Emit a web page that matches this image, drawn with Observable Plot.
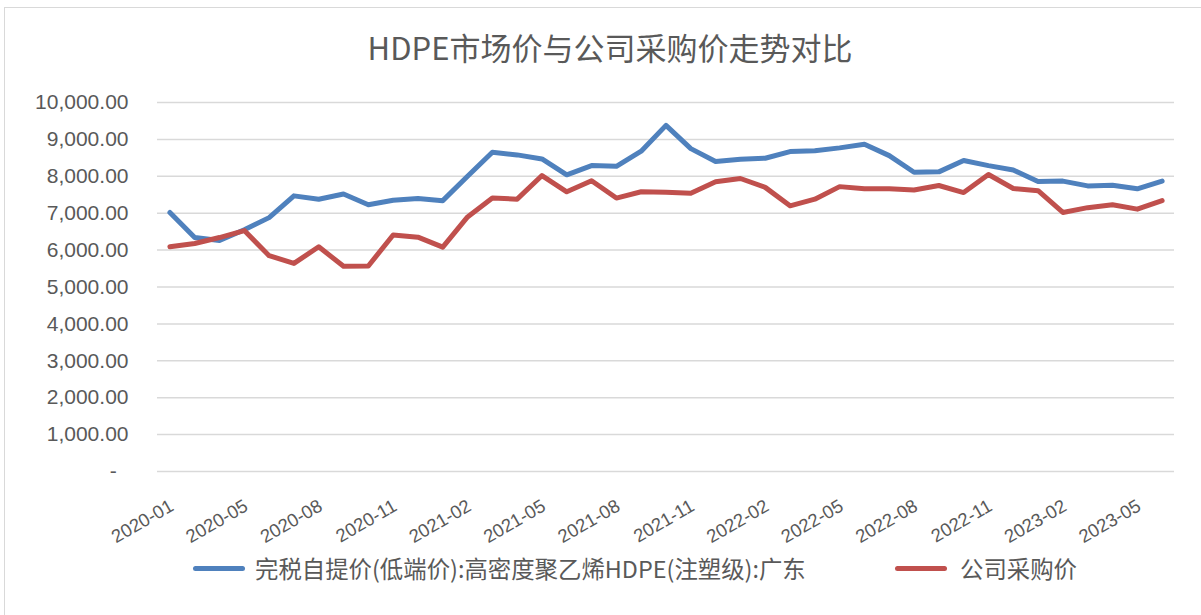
<!DOCTYPE html>
<html>
<head>
<meta charset="utf-8">
<script src="https://cdn.jsdelivr.net/npm/d3@7"></script>
<script src="https://cdn.jsdelivr.net/npm/@observablehq/plot@0.6"></script>
<style>
  html, body { margin: 0; padding: 0; background: #fff; }
  #wrap { position: relative; width: 1201px; height: 615px; overflow: hidden; background: #fff; }
  #frame { position: absolute; left: 4px; top: 7px; width: 1230px; height: 640px; border: 1.5px solid #d9d9d9; box-sizing: border-box; }
  #title { position: absolute; left: 0; width: 1220px; top: 31px; line-height: 32px; text-align: center;
           font-family: "Noto Sans CJK SC", sans-serif; font-size: 31px; color: #595959; white-space: nowrap; }
  #chart { position: absolute; left: 0; top: 0; }
  .leg { position: absolute; top: 553px; line-height: 30px; font-family: "Noto Sans CJK SC", sans-serif;
         font-size: 23.4px; color: #595959; white-space: nowrap; }
  .sw { position: absolute; top: 566px; height: 5px; width: 52px; border-radius: 3px; }
</style>
</head>
<body>
<div id="wrap">
  <div id="frame"></div>
  <div id="chart"></div>
  <div id="title"></div>
  <div class="sw" style="left:193px;background:#4f81bd"></div>
  <div class="leg" style="left:255px" id="leg1"></div>
  <div class="sw" style="left:895px;background:#c0504d"></div>
  <div class="leg" style="left:960px" id="leg2"></div>
</div>
<script>
const months = [
  "2020-01","2020-03","2020-04","2020-05","2020-06","2020-07","2020-08","2020-09","2020-10","2020-11","2020-12",
  "2021-01","2021-02","2021-03","2021-04","2021-05","2021-06","2021-07","2021-08","2021-09","2021-10","2021-11","2021-12",
  "2022-01","2022-02","2022-03","2022-04","2022-05","2022-06","2022-07","2022-08","2022-09","2022-10","2022-11","2022-12",
  "2023-01","2023-02","2023-03","2023-04","2023-05","2023-06"
];
const marketPrice = [
  7020, 6340, 6260, 6550, 6880, 7470, 7380, 7520, 7230, 7350,
  7400, 7340, 8000, 8650, 8580, 8470, 8040, 8290, 8270, 8680,
  9380, 8750, 8400, 8460, 8490, 8670, 8690, 8770, 8870, 8560,
  8110, 8120, 8430, 8290, 8170, 7860, 7870, 7740, 7760, 7660,
  7870
];
const purchasePrice = [
  6090, 6180, 6340, 6530, 5850, 5640, 6090, 5560, 5570, 6410,
  6350, 6080, 6900, 7410, 7380, 8020, 7580, 7880, 7410, 7580,
  7570, 7540, 7850, 7940, 7700, 7200, 7380, 7720, 7660, 7660,
  7630, 7750, 7560, 8050, 7670, 7610, 7020, 7150, 7230, 7110,
  7340
];
const seriesNames = ["完税自提价(低端价):高密度聚乙烯HDPE(注塑级):广东", "公司采购价"];
const seriesColors = ["#4f81bd", "#c0504d"];
const yTicks = [0, 1000, 2000, 3000, 4000, 5000, 6000, 7000, 8000, 9000, 10000];
const xTickLabels = ["2020-01","2020-05","2020-08","2020-11","2021-02","2021-05","2021-08","2021-11","2022-02","2022-05","2022-08","2022-11","2023-02","2023-05"];
const chartTitle = "HDPE市场价与公司采购价走势对比";

document.getElementById("title").textContent = chartTitle;
document.getElementById("leg1").textContent = seriesNames[0];
document.getElementById("leg2").textContent = seriesNames[1];

const rowsA = months.map((m, i) => ({month: m, value: marketPrice[i]}));
const rowsB = months.map((m, i) => ({month: m, value: purchasePrice[i]}));

const fmt = d => d === 0 ? "-\u00A0\u00A0" : d3.format(",.2f")(d);

const chart = Plot.plot({
  width: 1201,
  height: 560,
  marginLeft: 157,
  marginRight: 27,
  marginTop: 102,
  marginBottom: 89,
  style: {fontFamily: "'Liberation Sans', Arial, sans-serif", fontSize: "21px", color: "#595959", background: "transparent", overflow: "visible"},
  x: {type: "point", domain: months, padding: 0.5, axis: null},
  y: {domain: [0, 10000], axis: null},
  marks: [
    Plot.ruleY(yTicks, {stroke: "#d9d9d9", strokeWidth: 1.5}),
    Plot.axisY(yTicks, {tickSize: 0, tickPadding: 29, tickFormat: fmt, fontSize: 21, fill: "#595959", label: null}),
    Plot.text(xTickLabels, {x: d => d, frameAnchor: "bottom", dx: 2, dy: 33, rotate: -30,
      textAnchor: "end", lineAnchor: "middle", fontSize: 18.5, fill: "#595959"}),
    Plot.line(rowsA, {x: "month", y: "value", stroke: seriesColors[0], strokeWidth: 5, strokeLinejoin: "round", strokeLinecap: "round"}),
    Plot.line(rowsB, {x: "month", y: "value", stroke: seriesColors[1], strokeWidth: 5, strokeLinejoin: "round", strokeLinecap: "round"})
  ]
});
document.getElementById("chart").appendChild(chart);
</script>
</body>
</html>
